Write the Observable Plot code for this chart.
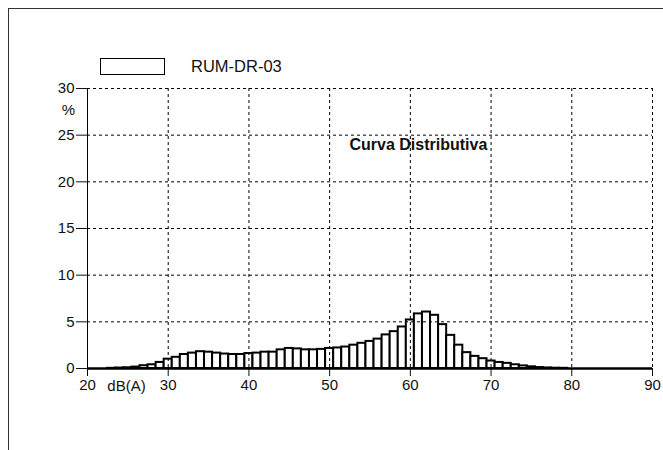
<!DOCTYPE html>
<html>
<head>
<meta charset="utf-8">
<script src="https://cdn.jsdelivr.net/npm/d3@7"></script>
<script src="https://cdn.jsdelivr.net/npm/@observablehq/plot@0.6"></script>
<style>
  html, body { margin: 0; padding: 0; background: #fff; }
  #wrap { position: relative; width: 663px; height: 450px; overflow: hidden; font-family: "Liberation Sans", Arial, sans-serif; }
  #frame { position: absolute; left: 8px; top: 8px; width: 660px; height: 450px; border-left: 1px solid #333; border-top: 1px solid #333; box-sizing: border-box; }
  #legend { position: absolute; left: 100px; top: 57px; display: flex; align-items: center; }
  #legend .sw { width: 63px; height: 15px; border: 1.5px solid #000; background: #fff; }
  #legend .lb { margin-left: 26px; font-size: 16.5px; color: #111; }
  #chart { position: absolute; left: 0; top: 0; }
  #chart svg text { fill: #111; }
</style>
</head>
<body>
<div id="wrap">
  <div id="frame"></div>
  <div id="chart"></div>
  <div id="legend"><div class="sw"></div><div class="lb" id="lbl"></div></div>
</div>
<script>
// Data: sound level classes (dB(A)) and percentage of time
const levels = [20,21,22,23,24,25,26,27,28,29,30,31,32,33,34,35,36,37,38,39,40,41,42,43,44,45,46,47,48,49,50,51,52,53,54,55,56,57,58,59,60,61,62,63,64,65,66,67,68,69,70,71,72,73,74,75,76,77,78,79,80,81,82,83,84,85,86,87,88,89,90];
const percent = [0,0,0,0.02,0.05,0.08,0.15,0.3,0.4,0.65,1.0,1.2,1.5,1.65,1.8,1.75,1.65,1.55,1.5,1.5,1.6,1.65,1.75,1.75,2.0,2.15,2.1,2.0,2.0,2.05,2.15,2.2,2.3,2.5,2.7,2.9,3.15,3.6,3.95,4.45,5.2,5.85,6.05,5.7,4.7,3.55,2.5,1.7,1.3,1.05,0.8,0.65,0.55,0.4,0.28,0.18,0.1,0.06,0.03,0.02,0,0,0,0,0,0,0,0,0,0,0];
const xTicks = [20,30,40,50,60,70,80,90];
const yTicks = [0,5,10,15,20,25,30];
const seriesName = "RUM-DR-03";
const xUnit = "dB(A)";
const yUnit = "%";
const annotation = [{x: 61, y: 24, label: "Curva Distributiva"}];

const rows = levels.map((l, i) => ({level: l, pct: percent[i]})).filter(d => d.pct > 0);

document.getElementById("lbl").textContent = seriesName;

const dash = {stroke: "#000", strokeWidth: 1, strokeDasharray: "3,3"};

const chart = Plot.plot({
  width: 663,
  height: 450,
  marginLeft: 87,
  marginRight: 11,
  marginTop: 88,
  marginBottom: 82,
  style: {fontFamily: "'Liberation Sans', Arial, sans-serif", fontSize: "15px", background: "transparent", color: "#111"},
  x: {domain: [20, 90], ticks: xTicks, tickSize: 8, tickPadding: 3, label: null, tickFormat: d => String(d)},
  y: {domain: [0, 30], ticks: yTicks, tickSize: 11, tickPadding: 2, label: null, tickFormat: d => String(d)},
  marks: [
    Plot.rect(rows, {x1: d => d.level - 0.5, x2: d => d.level + 0.5, y1: d => 0, y2: "pct", fill: "white", stroke: "black", strokeWidth: 2}),
    Plot.ruleX(xTicks.filter(t => t > 20), dash),
    Plot.ruleY(yTicks.filter(t => t > 0), dash),
    Plot.ruleX([20], {stroke: "#000", strokeWidth: 1, insetBottom: -8}),
    Plot.ruleY([0], {stroke: "#000", strokeWidth: 2.5}),
    Plot.text(annotation, {x: "x", y: "y", text: "label", fontWeight: "bold", fontSize: 16, textAnchor: "middle"}),
    Plot.text([xUnit], {frameAnchor: "bottom-left", dx: 39, dy: 18, fontSize: 15, textAnchor: "middle", lineAnchor: "middle"}),
    Plot.text([yUnit], {frameAnchor: "top-left", dx: -19, dy: 22, fontSize: 15, textAnchor: "middle", lineAnchor: "middle"})
  ]
});
document.getElementById("chart").appendChild(chart);
</script>
</body>
</html>
